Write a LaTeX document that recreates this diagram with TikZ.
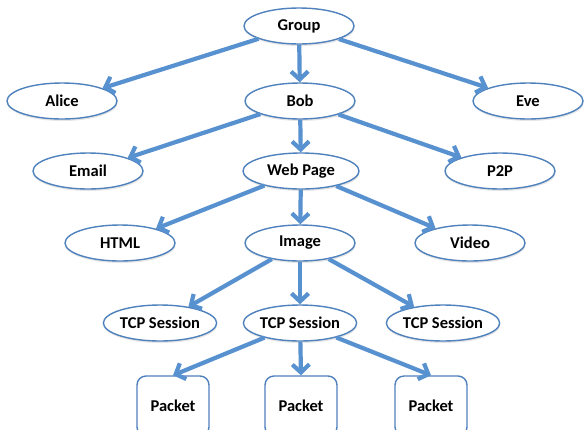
\documentclass[tikz,border=0pt]{standalone}
\usepackage{fontspec}
\setmainfont{Carlito}
\usetikzlibrary{arrows.meta,shapes.geometric,shadows}
\definecolor{linkblue}{RGB}{88,145,207}
\definecolor{edgeblue}{RGB}{79,129,189}

\begin{document}
\begin{tikzpicture}[x=1pt,y=-1pt,>={Straight Barb[length=8pt,width=17pt]},
        item/.style={ellipse,draw=edgeblue,line width=1.4pt,fill=white,inner sep=0pt,
                minimum width=110pt,minimum height=36pt,font=\fontsize{16.5}{19}\selectfont\bfseries,
                drop shadow={opacity=0.2,shadow xshift=0.5pt,shadow yshift=-2pt}},
        leaf/.style={rectangle,rounded corners=9pt,draw=edgeblue,line width=1.4pt,fill=white,
                minimum width=72pt,minimum height=60pt,font=\fontsize{16.5}{19}\selectfont\bfseries},
        link/.style={->,draw=linkblue,line width=4.2pt}]
                \clip (0,0) rectangle (585,429);
                \fill[white] (0,0) rectangle (585,429);
                % tree levels
                \node[item] (group) at (299,26) {Group};
                \node[item] (alice) at (62,101) {Alice};
                \node[item] (bob) at (300,101) {Bob};
                \node[item] (eve) at (528,101) {Eve};
                \node[item] (email) at (88,171) {Email};
                \node[item,minimum width=116pt] (webpage) at (301,171) {Web Page};
                \node[item] (ptp) at (500,171) {P2P};
                \node[item] (html) at (120,243) {HTML};
                \node[item] (image) at (300,243) {Image};
                \node[item] (video) at (470,243) {Video};
                \node[item] (tcpA) at (160,323) {TCP Session};
                \node[item] (tcpB) at (300,323) {TCP Session};
                \node[item] (tcpC) at (443,323) {TCP Session};
                \node[leaf] (pktA) at (173,406) {Packet};
                \node[leaf] (pktB) at (301,406) {Packet};
                \node[leaf] (pktC) at (431,406) {Packet};
                % links
                \draw[link] (group) -- (alice);
                \draw[link] (group) -- (bob);
                \draw[link] (group) -- (eve);
                \draw[link] (bob) -- (email);
                \draw[link] (bob) -- (webpage);
                \draw[link] (bob) -- (ptp);
                \draw[link] (webpage) -- (html);
                \draw[link] (webpage) -- (image);
                \draw[link] (webpage) -- (video);
                \draw[link] (image) -- (tcpA);
                \draw[link] (image) -- (tcpB);
                \draw[link] (image) -- (tcpC);
                \draw[link] (tcpB) -- (pktA.north);
                \draw[link] (tcpB) -- (pktB.north);
                \draw[link] (tcpB) -- (pktC.north);
        \end{tikzpicture}
\end{document}
